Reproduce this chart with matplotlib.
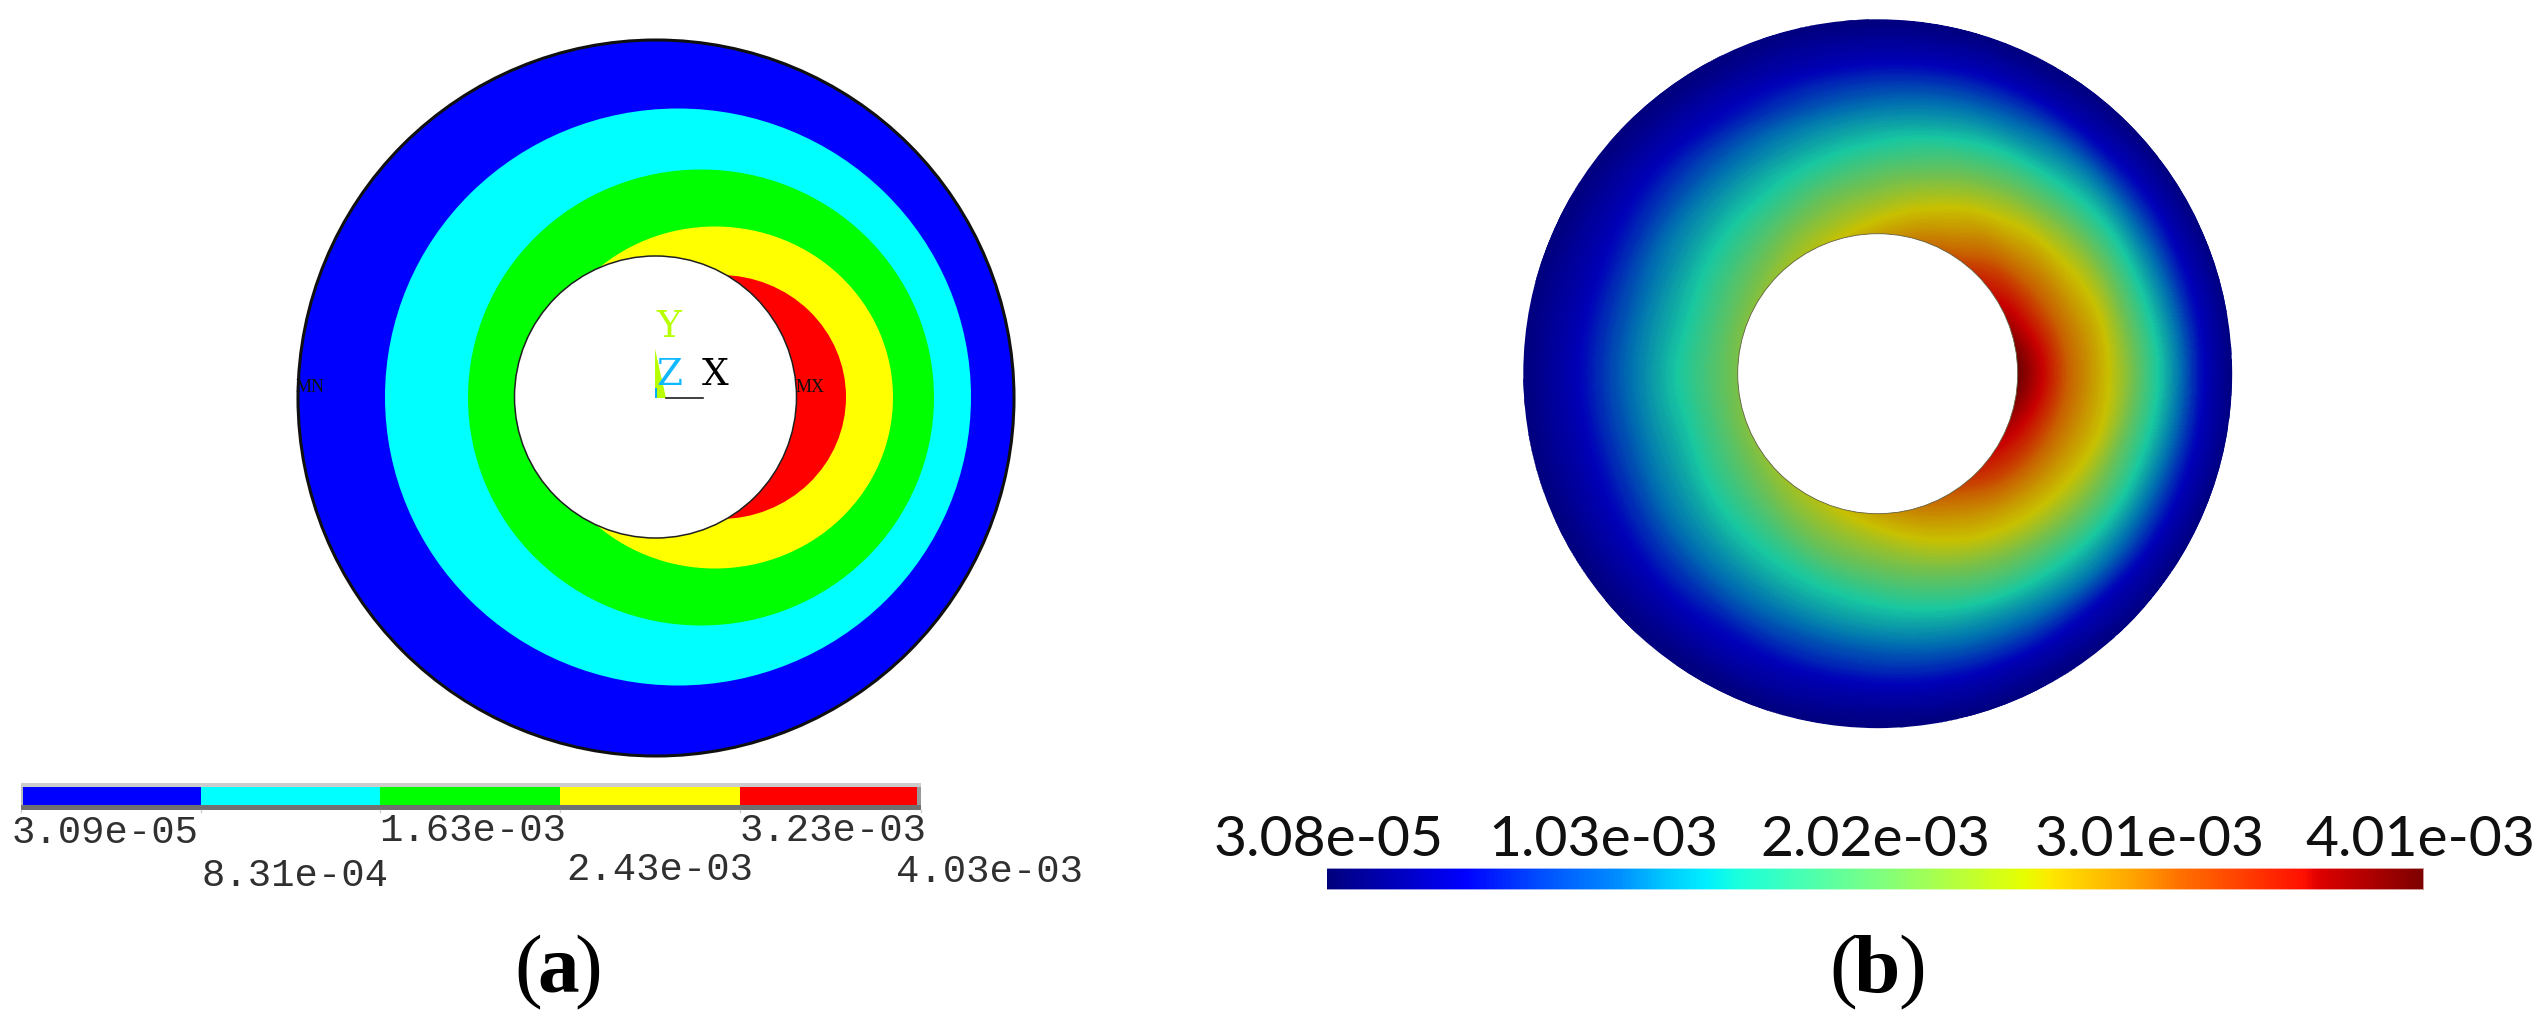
import numpy as np
import matplotlib
matplotlib.use("Agg")
import matplotlib.pyplot as plt
from matplotlib.colors import LinearSegmentedColormap
from matplotlib.patches import Circle, Ellipse, Polygon, Rectangle
from matplotlib.tri import Triangulation, UniformTriRefiner

# panel (a): ANSYS bands, outermost first (centre x, centre y, half width, half height)
band_colors = ["#0000ff", "#00ffff", "#00ff00", "#ffff00", "#ff0000"]
band_cx = [656, 678, 701, 715, 720]
band_cy = [398, 397, 397.5, 397.5, 397]
band_a = [358, 293, 233, 178, 126]
band_b = [358, 288.5, 228, 171, 122]
hole_a = (655.5, 397, 141)
labels_a = ["3.09e-05", "8.31e-04", "1.63e-03", "2.43e-03", "3.23e-03", "4.03e-03"]
label_left_a = [12, 201, 379, 566, 740, 896]
label_base_a = [843, 886, 841, 880, 841, 882]
bar_edges_a = [23, 200.7, 379.6, 560, 740.4, 917]

# panel (b): share of the colour range, read along rays from the hole to the rim
angles_b = [0, 15, 30, 45, 60, 75, 90, 105, 120, 135, 150, 165, 180]
depth_b = [0, .1, .2, .3, .4, .5, .6, .7, .8, .9, 1]
field_b = [
    [1.00, .91, .82, .73, .64, .54, .43, .32, .20, .10, 0],
    [.96, .88, .80, .71, .63, .52, .41, .30, .19, .10, 0],
    [.90, .84, .76, .67, .585, .49, .39, .28, .18, .09, 0],
    [.85, .79, .70, .62, .53, .44, .35, .26, .16, .08, 0],
    [.79, .71, .64, .56, .48, .40, .31, .23, .15, .07, 0],
    [.73, .65, .575, .50, .43, .355, .28, .21, .14, .07, 0],
    [.67, .59, .52, .455, .385, .32, .25, .19, .125, .06, 0],
    [.62, .55, .49, .42, .355, .295, .23, .175, .115, .06, 0],
    [.58, .52, .455, .39, .335, .275, .22, .16, .11, .05, 0],
    [.55, .49, .43, .375, .32, .265, .21, .16, .105, .05, 0],
    [.53, .47, .415, .36, .305, .255, .20, .15, .10, .05, 0],
    [.52, .46, .405, .35, .30, .245, .195, .145, .095, .05, 0],
    [.51, .46, .41, .36, .305, .25, .20, .15, .10, .05, 0],
]
labels_b = ["3.08e-05", "1.03e-03", "2.02e-03", "3.01e-03", "4.01e-03"]
label_mid_b = [1328.5, 1603, 1875.5, 2149.5, 2420]

disk_stops = [0, .13, .25, .37, .5, .62, .79, .90, 1]
disk_colors = ["#00007a", "#0000b8", "#0070b0", "#18c8a0", "#70c050", "#c8c000",
               "#c86000", "#c80000", "#700000"]
bar_stops = [0, .124, .195, .267, .307, .346, .372, .505, .638, .661, .733, .78, .873, .893, .905, 1]
bar_colors = ["#00007f", "#0000ff", "#0050ff", "#0090ff", "#00c8ff", "#00f0ff", "#18ffe0",
              "#80ff80", "#e8ff00", "#ffe800", "#ffa800", "#ff7000", "#ff2000", "#ff1000",
              "#e00000", "#7f0000"]

mono = "Liberation Mono"
serif = "Liberation Serif"

fig = plt.figure(figsize=(25.48, 10.27), dpi=100)
ax = fig.add_axes([0, 0, 1, 1])
ax.set_xlim(0, 2548)
ax.set_ylim(1027, 0)
ax.axis("off")

# ---- panel (a)
for i in range(len(band_colors)):
    ax.add_patch(Ellipse((band_cx[i], band_cy[i]), 2 * band_a[i], 2 * band_b[i],
                         fc=band_colors[i], ec="none", zorder=2 + i * 0.1))
ax.add_patch(Circle((band_cx[0], band_cy[0]), band_a[0], fc="none", ec="#101010", lw=2.2, zorder=3))
ax.add_patch(Circle(hole_a[:2], hole_a[2], fc="white", ec="#202020", lw=1.1, zorder=3))

# triad and min / max marks
ax.add_patch(Polygon([(655, 349), (655, 398), (666, 398)], fc="#b8ff00", ec="none", zorder=4))
ax.add_patch(Rectangle((655, 388), 2, 10, fc="#00b0ff", ec="none", zorder=4))
ax.plot([666, 703], [398, 398], color="#202020", lw=1.2, zorder=4)
ax.text(668.5, 337, "Y", color="#b8ff00", family="DejaVu Serif", fontsize=27, ha="center", va="baseline", zorder=5)
ax.text(669, 385, "Z", color="#10b8ff", family="DejaVu Serif", fontsize=27, ha="center", va="baseline", zorder=5)
ax.text(715, 385, "X", color="black", family="DejaVu Serif", fontsize=27, ha="center", va="baseline", zorder=5)
ax.text(310, 392, "MN", color="#101010", family=serif, fontsize=13, ha="center", va="baseline", zorder=5)
ax.text(810.5, 392, "MX", color="#101010", family=serif, fontsize=13, ha="center", va="baseline", zorder=5)

# stepped legend bar
ax.add_patch(Rectangle((21, 782.7), 899.7, 4.6, fc="#cccccc", ec="none"))
ax.add_patch(Rectangle((21, 805), 899.7, 5, fc="#707070", ec="none"))
ax.add_patch(Rectangle((21, 787), 2, 18, fc="#bbbbbb", ec="none"))
ax.add_patch(Rectangle((917, 787), 3.7, 18, fc="#999999", ec="none"))
for i in range(len(band_colors)):
    ax.add_patch(Rectangle((bar_edges_a[i], 787.3), bar_edges_a[i + 1] - bar_edges_a[i], 17.7,
                           fc=band_colors[i], ec="none"))
for edge in [21] + bar_edges_a[1:-1] + [920.7]:
    ax.plot([edge, edge], [810, 812], color="#cccccc", lw=1)
for i in range(len(labels_a)):
    ax.text(label_left_a[i], label_base_a[i], labels_a[i], family=mono, fontsize=28,
            color="#303030", ha="left", va="baseline")

# ---- panel (b)
cx_b, cy_b, r_in, r_out = 1877.7, 373.7, 140, 354.4
disk_cmap = LinearSegmentedColormap.from_list("disk", list(zip(disk_stops, disk_colors)))
bar_cmap = LinearSegmentedColormap.from_list("bar", list(zip(bar_stops, bar_colors)))

# mirror the upper half, close the ring with explicit triangles so the hole stays open
field = np.array(field_b)
vals = np.vstack([field, field[-2:0:-1]])
theta = np.radians(np.r_[angles_b, 360 - np.array(angles_b[-2:0:-1])])
radii = r_in + np.array(depth_b) * (r_out - r_in)
radii[-1] = r_out / np.cos(np.radians(7.5))
tt, rr = np.meshgrid(theta, radii, indexing="ij")
n_t, n_r = tt.shape
tris = []
for i in range(n_t):
    for j in range(n_r - 1):
        a = i * n_r + j
        b = ((i + 1) % n_t) * n_r + j
        tris.append([a, b, b + 1])
        tris.append([a, b + 1, a + 1])
mesh = Triangulation((cx_b + rr * np.cos(tt)).ravel(), (cy_b - rr * np.sin(tt)).ravel(), tris)
fine_mesh, fine_vals = UniformTriRefiner(mesh).refine_field(vals.ravel(), subdiv=3)
cs = ax.tricontourf(fine_mesh, np.clip(fine_vals, 0, 1), levels=np.linspace(0, 1, 200),
                    cmap=disk_cmap, antialiased=False, zorder=2)
rim = Circle((cx_b, cy_b), r_out, transform=ax.transData, fc="none", ec="none")
ax.add_patch(rim)
cs.set_clip_path(rim)
ax.add_patch(Circle((cx_b, cy_b), r_in, fc="white", ec="#606040", lw=0.6, zorder=3))

gradient = np.linspace(0, 1, 512).reshape(1, -1)
ax.imshow(gradient, extent=(1327.4, 2424, 889.7, 868.3), cmap=bar_cmap, aspect="auto", alpha=0.4, zorder=2)
ax.imshow(gradient, extent=(1327.4, 2423, 888.7, 869.3), cmap=bar_cmap, aspect="auto", zorder=2.1)
ax.set_xlim(0, 2548)
ax.set_ylim(1027, 0)
for i in range(len(labels_b)):
    ax.text(label_mid_b[i], 856, labels_b[i], family="Lato", fontsize=41,
            color="#101010", ha="center", va="baseline")

# ---- captions
for left, right, mid, letter in [(514, 602, 558, "a"), (1829, 1926, 1877, "b")]:
    ax.text(left, 992, "(", family=serif, fontsize=60, ha="left", va="baseline")
    ax.text(right, 992, ")", family=serif, fontsize=60, ha="right", va="baseline")
    ax.text(mid, 992, letter, family=serif, fontsize=60, fontweight="bold", ha="center", va="baseline")

fig.savefig("out.png", dpi=100)
